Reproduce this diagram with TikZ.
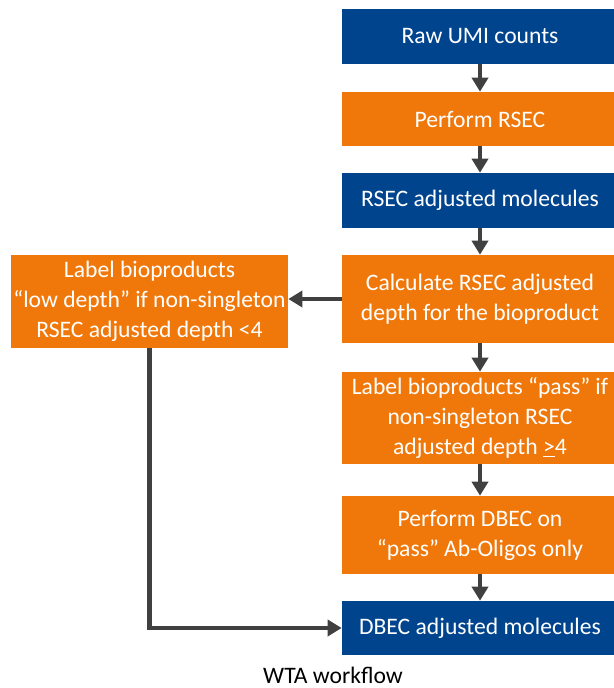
\documentclass[tikz,border=0pt]{standalone}
\usepackage{fontspec}
\setmainfont{Carlito}
\usetikzlibrary{arrows.meta}
\definecolor{bdblue}{RGB}{0,68,142}
\definecolor{bdorange}{RGB}{240,120,10}
\definecolor{arrowgray}{RGB}{64,64,64}

\begin{document}
\begin{tikzpicture}[x=0.025cm, y=-0.025cm,
  every node/.style={align=center, font=\fontsize{16.8}{21.4}\selectfont},
  box/.style={inner sep=0pt, minimum width=6.9cm, text=white},
  bluebox/.style={box, fill=bdblue},
  orangebox/.style={box, fill=bdorange},
  flow/.style={-{Triangle[width=0.4cm, length=0.35cm]}, line width=3.2pt, draw=arrowgray}]
\useasboundingbox (0,0) rectangle (613,688);

\node[bluebox, minimum height=1.375cm] at (480,36.5) (raw) {Raw UMI counts};
\node[orangebox, minimum height=1.35cm] at (480,119) (rsec) {Perform RSEC};
\node[bluebox, minimum height=1.375cm] at (480,200.5) (rsecmol) {RSEC adjusted molecules};
\node[orangebox, minimum height=2.2cm] at (480,299) (calc) {Calculate RSEC adjusted\\depth for the bioproduct};
\node[orangebox, minimum width=6.925cm, minimum height=2.325cm] at (149.5,301.5) (low) {Label bioproducts\\“low depth” if non-singleton\\RSEC adjusted depth {<}4};
\node[orangebox, minimum height=2.3cm] at (480,418) (pass) {Label bioproducts “pass” if\\non-singleton RSEC\\adjusted depth \underline{>}4};
\node[orangebox, minimum height=1.95cm] at (480,535) (dbec) {Perform DBEC on\\“pass” Ab-Oligos only};
\node[bluebox, minimum height=1.35cm] at (480,628) (dbecmol) {DBEC adjusted molecules};
\node at (333,675) (caption) {WTA workflow};

\draw[flow] (raw) -- (rsec);
\draw[flow] (rsec) -- (rsecmol);
\draw[flow] (rsecmol) -- (calc);
\draw[flow] (calc.west) -- (calc.west -| low.east);
\draw[flow] (calc) -- (pass);
\draw[flow] (pass) -- (dbec);
\draw[flow] (dbec) -- (dbecmol);
\draw[flow] (low.south) |- (dbecmol.west);
\end{tikzpicture}
\end{document}
